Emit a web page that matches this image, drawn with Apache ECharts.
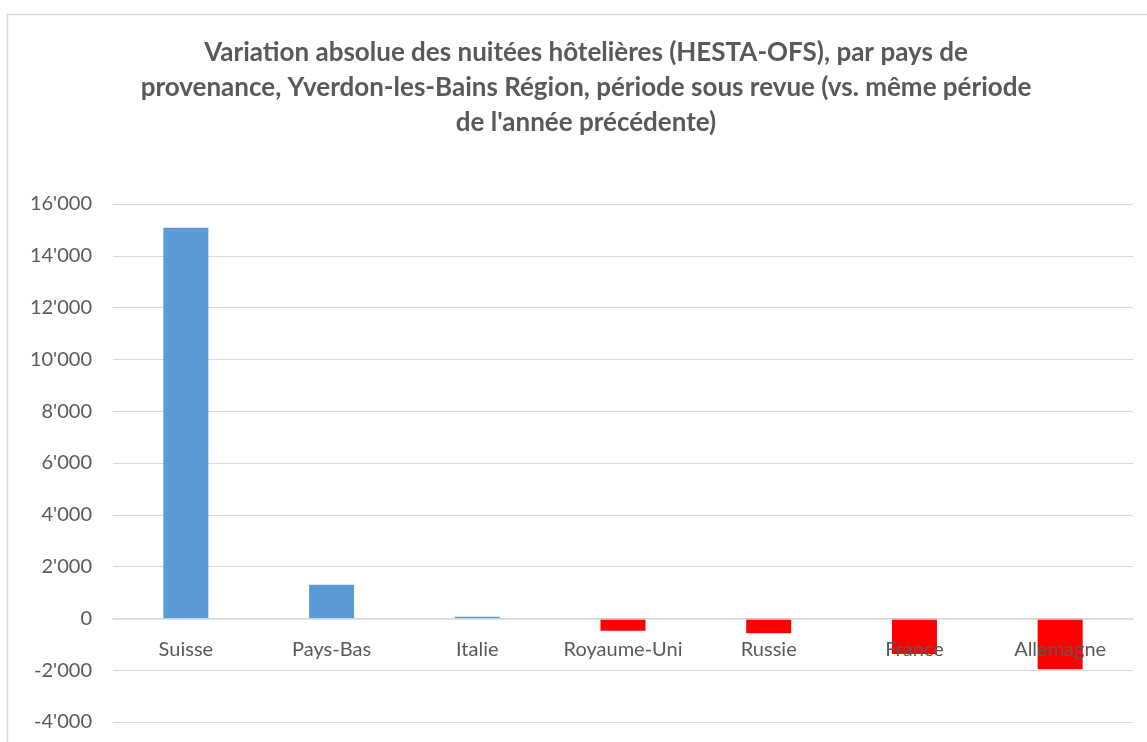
<!DOCTYPE html>
<html>
<head>
<meta charset="utf-8">
<script src="https://cdn.jsdelivr.net/npm/echarts@6/dist/echarts.min.js"></script>
<style>
  html, body { margin: 0; padding: 0; background: #fff; }
  #main { width: 1147px; height: 742px; }
</style>
</head>
<body>
<div id="main"></div>
<script>
const categories = ['Suisse', 'Pays-Bas', 'Italie', 'Royaume-Uni', 'Russie', 'France', 'Allemagne'];
const variation = [15080, 1300, 65, -480, -570, -1370, -1960];
const yTicks = { min: -4000, max: 16000, interval: 2000 };

const grey = '#595959';
const fmt = v => {
  const s = String(Math.abs(v)).replace(/\B(?=(\d{3})+(?!\d))/g, "'");
  return (v < 0 ? '-' : '') + s;
};

const options = {
  animation: false,
  textStyle: { fontFamily: 'Lato' },
  title: {
    text: "Variation absolue des nuitées hôtelières (HESTA-OFS), par pays de\nprovenance, Yverdon-les-Bains Région, période sous revue (vs. même période\nde l'année précédente)",
    left: 586,
    top: 35,
    textAlign: 'center',
    padding: 0,
    textStyle: {
      fontFamily: 'Lato',
      fontWeight: 'bold',
      fontSize: 26,
      lineHeight: 35,
      color: grey
    }
  },
  graphic: [{
    type: 'rect',
    shape: { x: 7.5, y: 14.5, width: 1160, height: 760 },
    style: { fill: 'none', stroke: '#d9d9d9', lineWidth: 1.5 },
    silent: true
  }],
  grid: { left: 113, right: 14, top: 204, bottom: 20, outerBoundsMode: 'none' },
  xAxis: {
    type: 'category',
    data: categories,
    z: 5, // labels drawn over the bars
    axisLine: { onZero: true, lineStyle: { color: '#d9d9d9', width: 1.5 } },
    axisTick: { show: false },
    // labels sit just under the zero line, as in the original
    axisLabel: { color: grey, fontSize: 20, margin: -82, interval: 0 }
  },
  yAxis: {
    type: 'value',
    min: yTicks.min,
    max: yTicks.max,
    interval: yTicks.interval,
    axisLine: { show: false },
    axisTick: { show: false },
    splitLine: { lineStyle: { color: '#d9d9d9', width: 1 } },
    axisLabel: { color: grey, fontSize: 20, margin: 21, formatter: fmt }
  },
  series: [{
    type: 'bar',
    data: variation,
    barWidth: 45,
    itemStyle: {
      color: p => (p.value < 0 ? '#ff0000' : '#5b9bd5')
    }
  }]
};

const myChart = echarts.init(document.getElementById('main'));
myChart.setOption(options);
</script>
</body>
</html>
